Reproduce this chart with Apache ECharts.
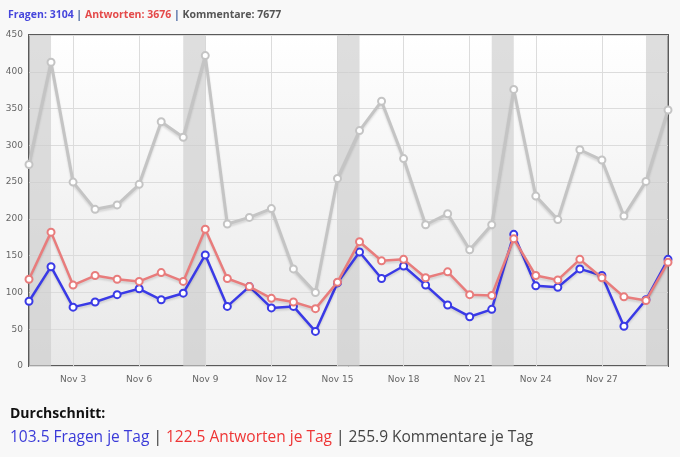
<!DOCTYPE html>
<html>
<head>
<meta charset="utf-8">
<script src="https://cdn.jsdelivr.net/npm/echarts@6/dist/echarts.min.js"></script>
<style>
html,body{margin:0;padding:0;background:#f8f8f8;}
#c{width:680px;height:457px;}
</style>
</head>
<body>
<div id="c"></div>
<script>
var days = ['Nov 1','Nov 2','Nov 3','Nov 4','Nov 5','Nov 6','Nov 7','Nov 8','Nov 9','Nov 10',
  'Nov 11','Nov 12','Nov 13','Nov 14','Nov 15','Nov 16','Nov 17','Nov 18','Nov 19','Nov 20',
  'Nov 21','Nov 22','Nov 23','Nov 24','Nov 25','Nov 26','Nov 27','Nov 28','Nov 29','Nov 30'];
var fragen = [88,135,80,87,97,105,90,99,151,81,108,79,81,47,113,155,119,136,110,83,67,77,179,109,107,132,123,54,90,145];
var antworten = [118,182,110,123,118,115,127,115,186,119,108,92,87,78,114,169,143,145,120,128,97,96,173,123,117,145,120,94,89,141];
var kommentare = [274,413,250,213,219,247,332,311,422,193,202,214,132,100,255,320,360,282,192,207,158,192,376,231,199,294,280,204,251,348];
var weekends = [['Nov 1','Nov 2'],['Nov 8','Nov 9'],['Nov 15','Nov 16'],['Nov 22','Nov 23'],['Nov 29','Nov 30']];
var totals = {fragen:3104, antworten:3676, kommentare:7677};
var averages = {fragen:'103.5', antworten:'122.5', kommentare:'255.9'};

var chart = echarts.init(document.getElementById('c'));
function lineSeries(name, data, color, width, z){
  return {
    name:name, type:'line', data:data, z:z,
    symbol:'circle', symbolSize:7,
    lineStyle:{color:color, width:width, shadowColor:'rgba(0,0,0,0.12)', shadowBlur:2, shadowOffsetY:2},
    itemStyle:{color:'#ffffff', borderColor:color, borderWidth:2},
    emphasis:{disabled:true}, animation:false
  };
}
var labelIdx = function(i){ return i>=2 && i<=26 && (i-2)%3===0; };
var ser = [
  lineSeries('Kommentare', kommentare, '#c4c4c4', 3, 3),
  lineSeries('Fragen', fragen, '#3a3ae6', 2.5, 4),
  lineSeries('Antworten', antworten, '#e87c7c', 2.5, 5)
];
ser[0].markArea = {silent:true, itemStyle:{color:'rgba(205,205,205,0.65)'},
  data: weekends.map(function(w){ return [{xAxis:w[0]},{xAxis:w[1]}]; })};
var F = 'Open Sans';
chart.setOption({
  backgroundColor:'#f8f8f8',
  animation:false,
  title:[{
    left:8, top:10, padding:0,
    text:'{bl|Fragen: '+totals.fragen+'} {s||} {rl|Antworten: '+totals.antworten+'} {s||} {gl|Kommentare: '+totals.kommentare+'}',
    textStyle:{fontWeight:'bold', fontSize:10.5, fontFamily:F, rich:{
      bl:{color:'#4646dc', fontSize:10.5, fontWeight:'bold', fontFamily:F},
      rl:{color:'#e44a4a', fontSize:10.5, fontWeight:'bold', fontFamily:F},
      gl:{color:'#555555', fontSize:10.5, fontWeight:'bold', fontFamily:F},
      s:{color:'#3a5a9a', fontSize:10.5, fontWeight:'bold', fontFamily:F}
    }}
  },{
    left:10, top:407, padding:0,
    text:'Durchschnitt:',
    textStyle:{color:'#111', fontSize:14, fontWeight:'bold', fontFamily:F}
  },{
    left:10, top:430, padding:0,
    text:'{b|'+averages.fragen+' Fragen je Tag} {s||} {r|'+averages.antworten+' Antworten je Tag} {s||} {g|'+averages.kommentare+' Kommentare je Tag}',
    textStyle:{fontWeight:'normal', fontSize:15.5, fontFamily:F, rich:{
      b:{color:'#3a3ad8', fontSize:15.5, fontWeight:'normal', fontFamily:F},
      r:{color:'#ee3535', fontSize:15.5, fontWeight:'normal', fontFamily:F},
      g:{color:'#444444', fontSize:15.5, fontWeight:'normal', fontFamily:F},
      s:{color:'#333', fontSize:15.5, fontWeight:'normal', fontFamily:F}
    }}
  }],
  grid:{left:29, right:12, top:35, bottom:91, show:true, borderColor:'#5a5a5a', borderWidth:2,
    backgroundColor:new echarts.graphic.LinearGradient(0,0,0,1,[{offset:0,color:'#ffffff'},{offset:1,color:'#e8e8e8'}])},
  xAxis:{type:'category', data:days, boundaryGap:false,
    axisLine:{show:false}, axisTick:{show:false},
    axisLabel:{interval:function(i){return labelIdx(i);}, color:'#666', fontSize:9, fontFamily:'DejaVu Sans', margin:9},
    splitLine:{show:true, interval:function(i){return labelIdx(i);}, lineStyle:{color:'#dcdcdc', width:1}}
  },
  yAxis:{type:'value', min:0, max:450, interval:50,
    axisLine:{show:false}, axisTick:{show:false},
    axisLabel:{color:'#666', fontSize:9, fontFamily:'DejaVu Sans', margin:6},
    splitLine:{lineStyle:{color:'#dcdcdc', width:1}}
  },
  series:ser
});
</script>
</body>
</html>
